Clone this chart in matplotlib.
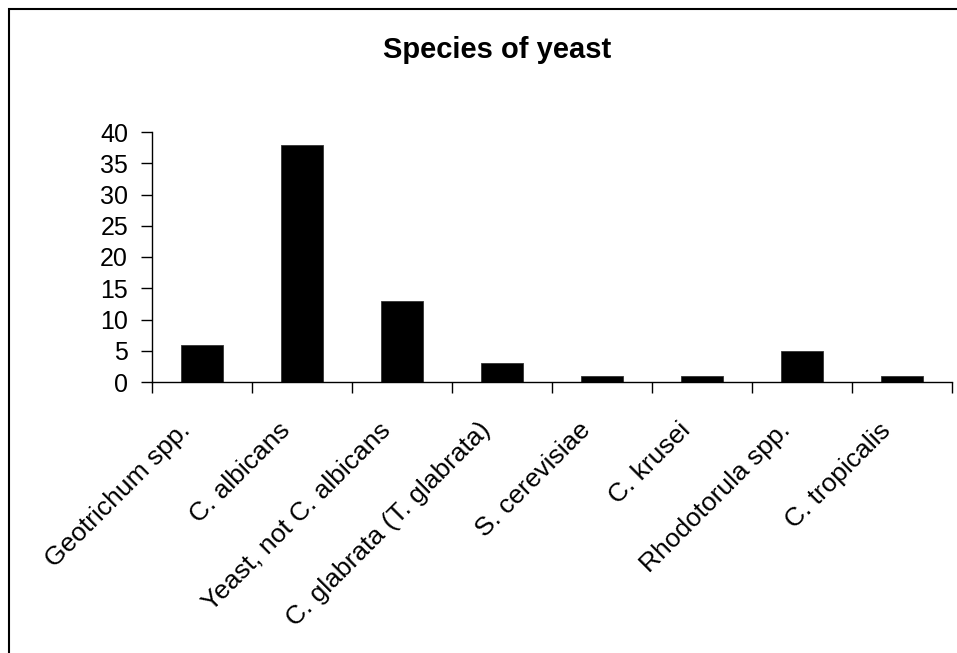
import numpy as np
import matplotlib
matplotlib.use("Agg")
import matplotlib.pyplot as plt
from matplotlib.patches import Rectangle

especies = ["Geotrichum spp.", "C. albicans", "Yeast, not C. albicans",
            "C. glabrata (T. glabrata)", "S. cerevisiae", "C. krusei",
            "Rhodotorula spp.", "C. tropicalis"]
casos = [6, 38, 13, 3, 1, 1, 5, 1]
yticks = [0, 5, 10, 15, 20, 25, 30, 35, 40]

plt.rcParams["font.family"] = ["Liberation Sans", "DejaVu Sans"]

fig = plt.figure(figsize=(9.57, 6.53), dpi=100)
ax = fig.add_axes([151.7 / 957, 1 - 382 / 653, 800 / 957, 250 / 653])

x = np.arange(len(especies))
ax.bar(x, casos, width=0.42, color="black", edgecolor="#333333", lw=0.6)

ax.set_xlim(-0.5, len(especies) - 0.5)
ax.set_ylim(0, 40)
ax.set_yticks(yticks)
ax.tick_params(axis="y", labelsize=18, length=8, width=1, pad=9)

# marcas del eje x en los límites entre categorías
ax.set_xticks(np.arange(len(especies) + 1) - 0.5)
ax.set_xticklabels([])
ax.tick_params(axis="x", length=8, width=1, direction="out")
for xi, nombre in zip(x, especies):
    ax.annotate(nombre, xy=(xi, 0), xycoords=("data", "axes fraction"),
                xytext=(-17, -26), textcoords="offset points",
                rotation=45, rotation_mode="anchor", ha="right", va="top",
                fontsize=19)

for lado in ("top", "right"):
    ax.spines[lado].set_visible(False)
for lado in ("left", "bottom"):
    ax.spines[lado].set_linewidth(1)

fig.text(497 / 957, 1 - 50 / 653, "Species of yeast", ha="center",
         va="center", fontsize=21, fontweight="bold")

# marco del gráfico (solo se ven los bordes superior e izquierdo)
fig.add_artist(Rectangle((8.5 / 957, -0.5), 2, 1.5 - 8.5 / 653,
                         transform=fig.transFigure, fill=False,
                         edgecolor="black", lw=1.5))

fig.savefig("out.png", dpi=100, facecolor="white")
